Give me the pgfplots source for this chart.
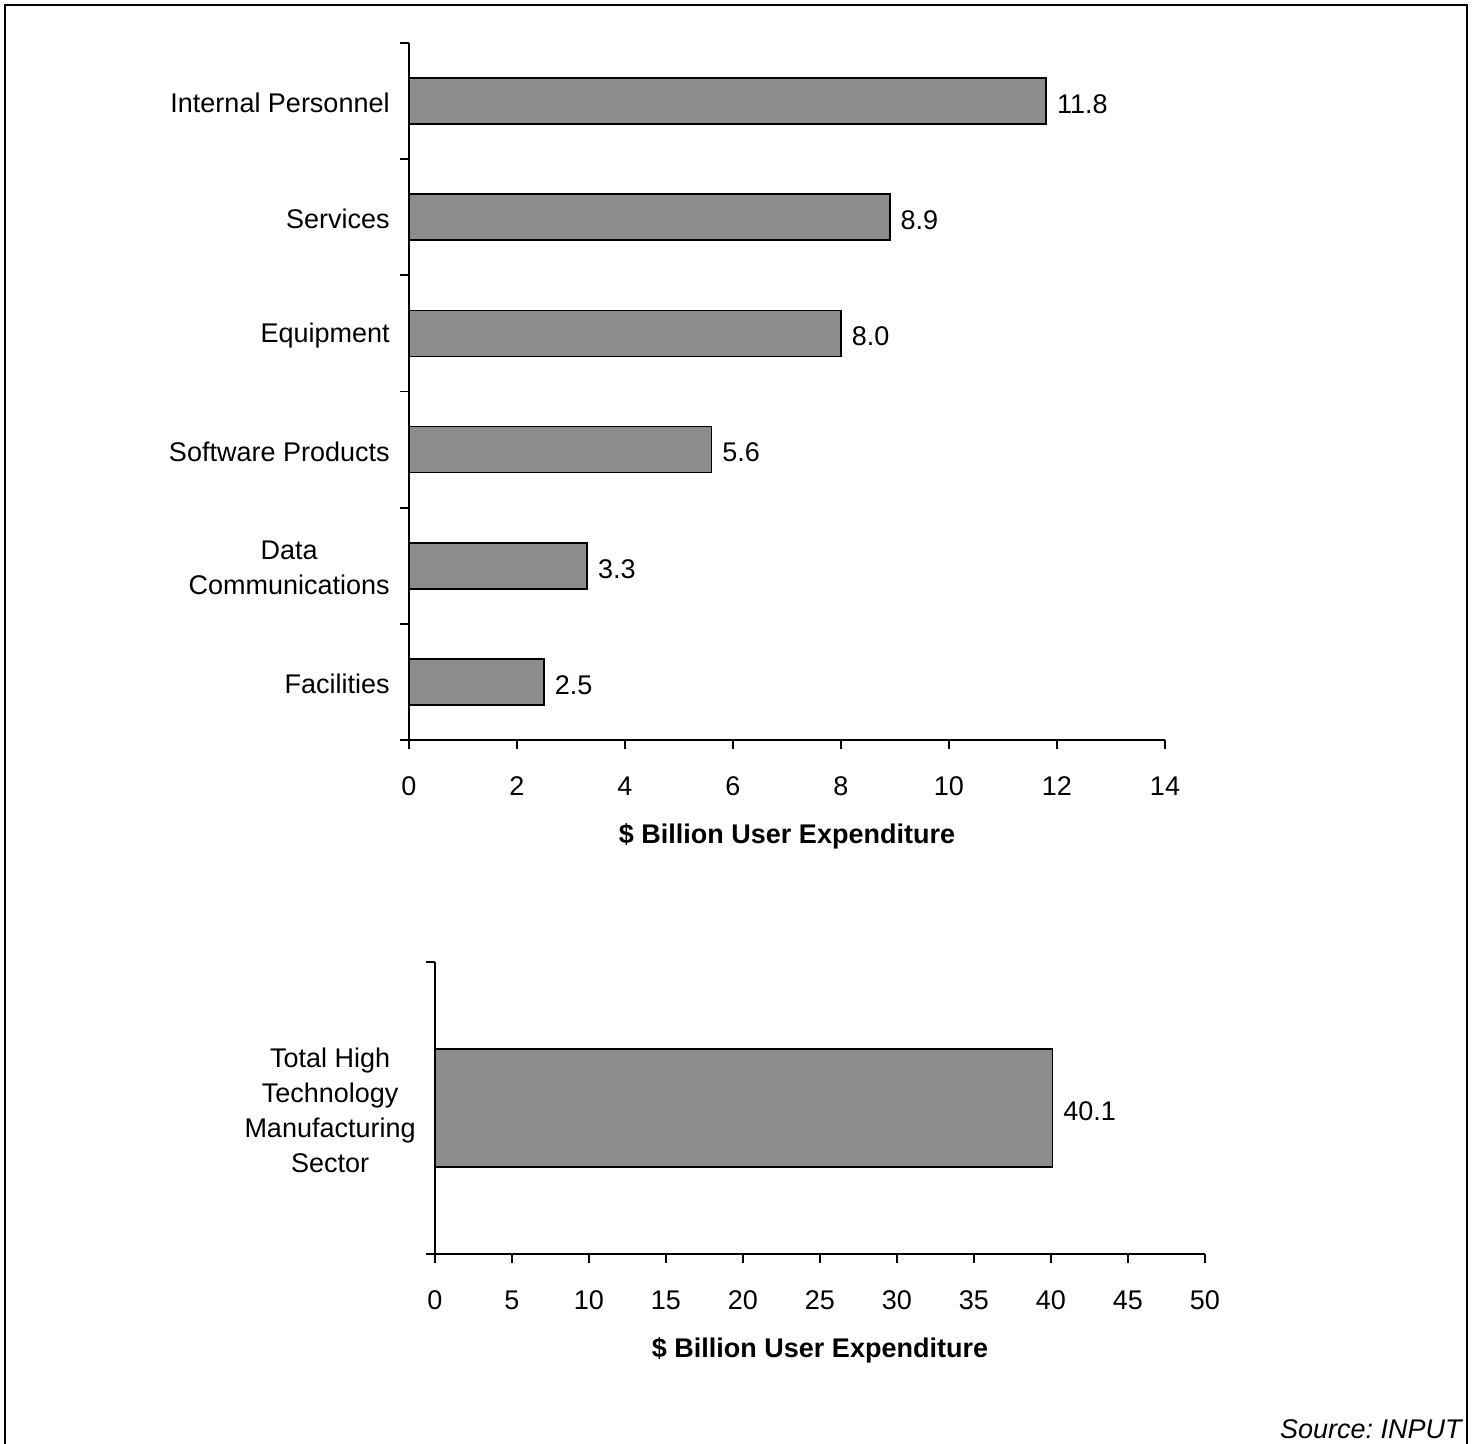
\documentclass[border=0pt]{standalone}
\usepackage{fontspec}
\setmainfont{Liberation Sans}
\usepackage{pgfplots}
\pgfplotsset{compat=1.18}
\pgfplotsset{
  mystyle/.style={
    scale only axis,
    axis x line=bottom, axis y line=left,
    axis line style={-, line width=0.9pt, black},
    tick align=outside,
    tick style={line width=0.9pt, black},
    major tick length=4.5pt,
    xbar,
    /pgf/number format/assume math mode=true,
    tick label style={font=\fontsize{13.5}{17.5}\selectfont},
    yticklabel style={align=center, xshift=-5pt, yshift=-1pt},
    xticklabel style={text height=9.7pt, text depth=0pt, yshift=-9pt},
    xlabel style={font=\bfseries\fontsize{13.5}{17.5}\selectfont, at={(axis description cs:0.5,0)}, anchor=center, yshift=-48pt},
    extra y tick style={major tick length=0pt},
    nodes near coords={\pgfmathprintnumber[fixed,fixed zerofill,precision=1]{\pgfplotspointmeta}},
    nodes near coords style={font=\fontsize{13.5}{17.5}\selectfont, inner sep=5pt, yshift=-1.5pt},
    xlabel={\$ Billion User Expenditure},
    clip=false,
  },
  mybar/.style={fill=black!45, draw=black, line width=0.9pt},
}
\begin{document}
\frenchspacing
\fontsize{13.5}{17.5}\selectfont
\begin{tikzpicture}
\useasboundingbox (0,0) rectangle (737pt,722pt);
\draw[line width=1pt] (2.5pt,-2pt) -- (2.5pt,719.5pt) -- (733.5pt,719.5pt) -- (733.5pt,-2pt);
\begin{axis}[mystyle, at={(204.5pt,352pt)}, anchor=south west,
  width=378pt, height=348.5pt,
  xmin=0, xmax=14, xtick={0,2,...,14},
  ymin=-0.5, ymax=5.5, ytick={-0.5,0.5,...,5.5}, yticklabels={},
  extra y ticks={0,1,2,3,4,5},
  extra y tick labels={Facilities,{Data\\Communications},Software Products,Equipment,Services,Internal Personnel},
  bar width=23pt]
\addplot[mybar] coordinates {(2.5,0) (3.3,1) (5.6,2) (8.0,3) (8.9,4) (11.8,5)};
\end{axis}
\begin{axis}[mystyle, at={(217.5pt,95pt)}, anchor=south west,
  width=385pt, height=146pt,
  xmin=0, xmax=50, xtick={0,5,...,50},
  ymin=0, ymax=1, ytick={0,1}, yticklabels={},
  extra y ticks={0.5},
  extra y tick labels={{Total High\\Technology\\Manufacturing\\Sector}},
  bar width=59pt]
\addplot[mybar] coordinates {(40.1,0.5)};
\end{axis}
\node[anchor=base east, inner sep=0pt, font=\itshape\fontsize{13.5}{17.5}\selectfont] at (731pt,2.5pt) {Source:\ INPUT};
\end{tikzpicture}
\end{document}
